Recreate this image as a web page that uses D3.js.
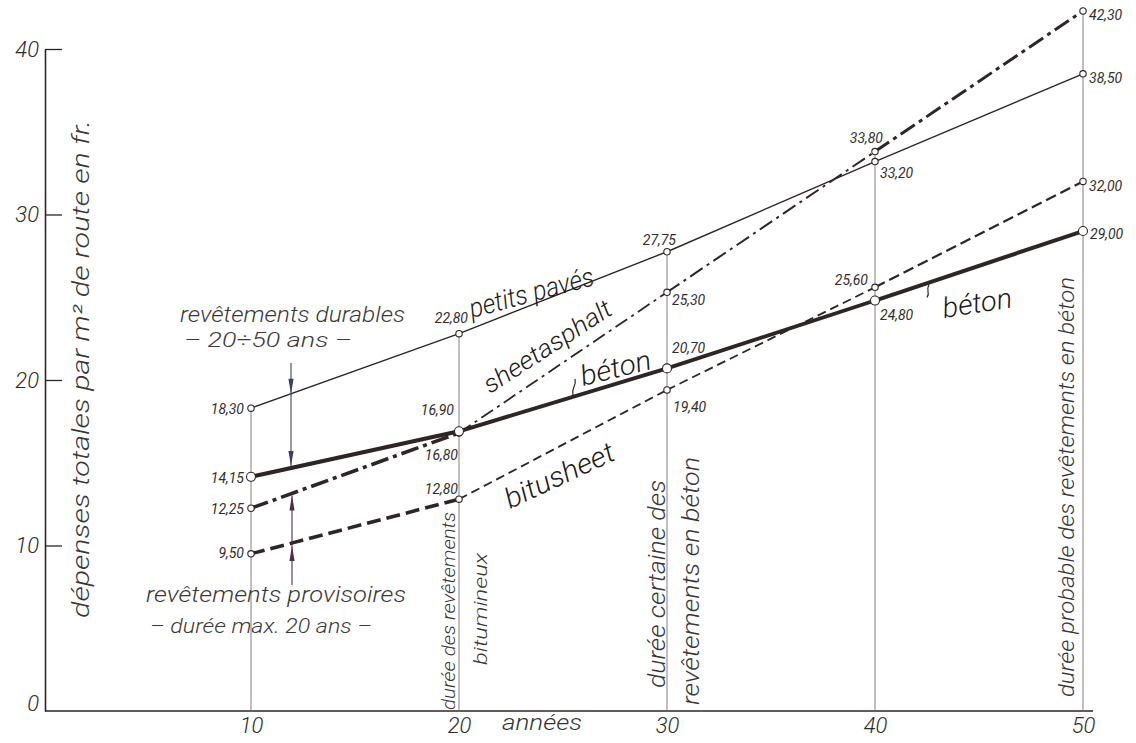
<!DOCTYPE html>
<html>
<head>
<meta charset="utf-8">
<script src="https://cdn.jsdelivr.net/npm/d3@7"></script>
<style>
  html, body { margin: 0; padding: 0; background: #ffffff; }
  svg { display: block; }
  .num { font-family: "Roboto", "DejaVu Sans", sans-serif; font-style: italic; font-weight: 400; fill: #332e2e; }
  .tnum { font-family: "Roboto", "DejaVu Sans", sans-serif; font-style: italic; font-weight: 300; fill: #2e2a2a; }
  .word { font-family: "Roboto", "Liberation Sans", sans-serif; font-style: italic; font-weight: 300; }
</style>
</head>
<body>
<svg id="chart" width="1136" height="743"></svg>
<script>
// ---------------- data ----------------
const years = [10, 20, 30, 40, 50];
const petitsPaves = [18.30, 22.80, 27.75, 33.20, 38.50];
const beton = [14.15, 16.90, 20.70, 24.80, 29.00];
const sheetasphalt = [12.25, 16.80, 25.30, 33.80, 42.30];
const bitusheet = [9.50, 12.80, 19.40, 25.60, 32.00];
const yTicks = [0, 10, 20, 30, 40];
const xTicks = [10, 20, 30, 40, 50];
const yTitle = "dépenses totales par m² de route en fr.";
const xTitle = "années";

// ---------------- layout ----------------
const svg = d3.select("#chart");
const ink = "#2e2624";
const x = d3.scaleLinear().domain([10, 50]).range([251, 1083]);
const y = d3.scaleLinear().domain([0, 40]).range([711, 49]);
const axisX = 45;
const fmt = d3.formatLocale({decimal: ",", thousands: " ", grouping: [3], currency: ["", ""]}).format(".2f");

const series = [
  { name: "petits", values: petitsPaves, widths: [1.4, 1.4, 1.4, 1.4], dash: [null, null, null, null], r: 3.2,
    labels: [["end", -7, 6], ["end", 9, -11], ["end", 9, -7], ["start", 5, 16], ["start", 6, 9]] },
  { name: "sheet", values: sheetasphalt, widths: [3.6, 1.8, 2.0, 3.0],
    dash: ["18 5 4 5", "14 5 3 5", "15 5 3 5", "17 5 4 5"], r: 3.2,
    labels: [["end", -7, 6], ["end", -1, 27], ["start", 5, 13], ["end", 8, -9], ["start", 6, 9]] },
  { name: "bitu", values: bitusheet, widths: [3.6, 1.8, 1.8, 2.2],
    dash: ["14 6", "9 5", "9 5", "11 5"], r: 3.2,
    labels: [["end", -7, 4], ["end", -1, -5], ["start", 6, 22], ["end", -7, -2], ["start", 6, 10]] },
  { name: "beton", values: beton, widths: [4.2, 4.0, 3.8, 4.0], dash: [null, null, null, null], r: 4.5,
    labels: [["end", -7, 6], ["end", -5, -16], ["start", 5, -15], ["start", 5, 19], ["start", 7, 8]] }
];

// ---------------- axes ----------------
const yAxis = d3.axisLeft(y).tickValues(yTicks).tickSizeInner(-17).tickSizeOuter(0).tickPadding(6);
const gy = svg.append("g").attr("transform", `translate(${axisX},0)`).call(yAxis);
gy.select(".domain").attr("stroke", ink).attr("stroke-width", 1.6);
gy.selectAll(".tick line").attr("stroke", ink).attr("stroke-width", 1.3)
  .attr("opacity", d => d === 0 ? 0 : 1);
gy.selectAll(".tick text").attr("class", "tnum").attr("font-size", 22)
  .attr("dy", d => d === 0 ? -1 : 7).attr("fill", "#333");

const xAxis = d3.axisBottom(x).tickValues(xTicks).tickSize(0).tickPadding(6);
const gx = svg.append("g").attr("transform", `translate(0,${y(0)})`).call(xAxis);
gx.select(".domain").remove();
gx.selectAll(".tick text").attr("class", "tnum").attr("font-size", 22).attr("fill", "#333");
svg.append("line").attr("x1", axisX).attr("x2", x(50) + 10).attr("y1", y(0)).attr("y2", y(0))
  .attr("stroke", ink).attr("stroke-width", 1.6);

svg.append("text").attr("class", "word").attr("x", 502).attr("y", 730)
  .attr("font-size", 22).attr("fill", "#333").attr("textLength", 80).attr("lengthAdjust", "spacingAndGlyphs")
  .text(xTitle);

svg.append("text").attr("class", "word")
  .attr("transform", "translate(89,618) rotate(-90)")
  .attr("font-size", 23).attr("fill", "#3a3636").attr("textLength", 498).attr("lengthAdjust", "spacingAndGlyphs")
  .text(yTitle);

// ---------------- drop lines ----------------
const tops = years.map((yr, i) => d3.max(series, s => s.values[i]));
svg.append("g").selectAll("line").data(years).join("line")
  .attr("x1", d => x(d)).attr("x2", d => x(d))
  .attr("y1", (d, i) => y(tops[i])).attr("y2", y(0))
  .attr("stroke", "#7a7070").attr("stroke-width", 0.9);

// ---------------- vertical notes ----------------
const vnotes = [
  { t: "durée des revêtements", bx: 455, by: 710, len: 198, fs: 19 },
  { t: "bitumineux", bx: 487, by: 665, len: 112, fs: 19 },
  { t: "durée certaine des", bx: 665, by: 688, len: 208, fs: 23 },
  { t: "revêtements en béton", bx: 699, by: 705, len: 248, fs: 23 },
  { t: "durée probable des revêtements en béton", bx: 1074, by: 697, len: 420, fs: 22 }
];
svg.append("g").selectAll("text").data(vnotes).join("text")
  .attr("class", "word").attr("fill", "#3a3636")
  .attr("transform", d => `translate(${d.bx},${d.by}) rotate(-90)`)
  .attr("font-size", d => d.fs).attr("textLength", d => d.len).attr("lengthAdjust", "spacingAndGlyphs")
  .text(d => d.t);

// ---------------- lines ----------------
const line = d3.line().x(d => x(d[0])).y(d => y(d[1]));
series.forEach(s => {
  const pts = years.map((yr, i) => [yr, s.values[i]]);
  const g = svg.append("g");
  for (let i = 0; i < pts.length - 1; i++) {
    g.append("path").attr("d", line([pts[i], pts[i + 1]]))
      .attr("fill", "none").attr("stroke", ink).attr("stroke-width", s.widths[i])
      .attr("stroke-dasharray", s.dash[i]);
  }
});

// ---------------- arrows ----------------
function valAt(vals, xp) {
  const yr = x.invert(xp);
  const i = Math.min(3, Math.floor((yr - 10) / 10));
  const t = (yr - years[i]) / 10;
  return vals[i] + t * (vals[i + 1] - vals[i]);
}
function arrowHead(g, xp, tipY, dir, color) {
  g.append("path")
    .attr("d", `M${xp},${tipY} L${xp - 2.6},${tipY - dir * 15} L${xp + 2.6},${tipY - dir * 15} Z`)
    .attr("fill", color);
}
const ax1 = 291, c1 = "#3b3f66";
const gA = svg.append("g");
const tipA1 = y(valAt(petitsPaves, ax1)), tipA2 = y(valAt(beton, ax1)) - 2;
gA.append("line").attr("x1", ax1).attr("x2", ax1).attr("y1", 363).attr("y2", tipA2)
  .attr("stroke", c1).attr("stroke-width", 1.1);
arrowHead(gA, ax1, tipA1, 1, c1);
arrowHead(gA, ax1, tipA2, 1, c1);

const ax2 = 292, c2 = "#4a2f4f";
const tipB1 = y(valAt(sheetasphalt, ax2)) + 2, tipB2 = y(valAt(bitusheet, ax2)) + 3;
gA.append("line").attr("x1", ax2).attr("x2", ax2).attr("y1", 585).attr("y2", tipB1)
  .attr("stroke", c2).attr("stroke-width", 1.1);
arrowHead(gA, ax2, tipB1, -1, c2);
arrowHead(gA, ax2, tipB2, -1, c2);

// ---------------- annotation texts ----------------
const notes = [
  { t: "revêtements durables", x: 180, y: 322, len: 225, fs: 22 },
  { t: "– 20÷50 ans –", x: 184, y: 347, len: 168, fs: 20 },
  { t: "revêtements provisoires", x: 146, y: 602, len: 260, fs: 22 },
  { t: "– durée max. 20 ans –", x: 150, y: 633, len: 222, fs: 20 }
];
svg.append("g").selectAll("text").data(notes).join("text")
  .attr("class", "word").attr("fill", "#3c3838")
  .attr("x", d => d.x).attr("y", d => d.y).attr("font-size", d => d.fs)
  .attr("textLength", d => d.len).attr("lengthAdjust", "spacingAndGlyphs")
  .text(d => d.t);

// ---------------- series names ----------------
const names = [
  { t: "petits pavés", x: 472, y: 318, a: -15, len: 128, fs: 27 },
  { t: "sheetasphalt", x: 490, y: 394, a: -33, len: 148, fs: 25 },
  { t: "béton", x: 583, y: 386, a: -14, len: 72, fs: 28 },
  { t: "bitusheet", x: 510, y: 509, a: -25, len: 118, fs: 28 },
  { t: "béton", x: 944, y: 318, a: -9, len: 70, fs: 28 }
];
svg.append("g").selectAll("text").data(names).join("text")
  .attr("class", "word").attr("fill", "#1e1a1a")
  .attr("transform", d => `translate(${d.x},${d.y}) rotate(${d.a})`)
  .attr("font-size", d => d.fs).attr("textLength", d => d.len).attr("lengthAdjust", "spacingAndGlyphs")
  .text(d => d.t);

// small leader hooks joining "béton" to its line
const hookX = [573, 929];
svg.append("g").selectAll("path").data(hookX).join("path")
  .attr("d", (d, i) => {
    const ly = y(valAt(beton, d));
    return i === 0
      ? `M${d},${ly - 1} q-1,-5 1,-9 q2,-4 1,-8`
      : `M${d},${ly + 2} q-2,4 -1,7 q1,3 -1,6`;
  })
  .attr("fill", "none").attr("stroke", ink).attr("stroke-width", 1.2);

// ---------------- markers & value labels ----------------
series.forEach(s => {
  const g = svg.append("g");
  years.forEach((yr, i) => {
    const cx = x(yr), cy = y(s.values[i]);
    g.append("circle").attr("cx", cx).attr("cy", cy).attr("r", s.r)
      .attr("fill", "#fff").attr("stroke", ink).attr("stroke-width", 1.1);
    const [anchor, dx, dy] = s.labels[i];
    g.append("text").attr("class", "num").attr("font-size", 14)
      .attr("x", cx + dx).attr("y", cy + dy).attr("text-anchor", anchor)
      .text(fmt(s.values[i]));
  });
});
</script>
</body>
</html>
